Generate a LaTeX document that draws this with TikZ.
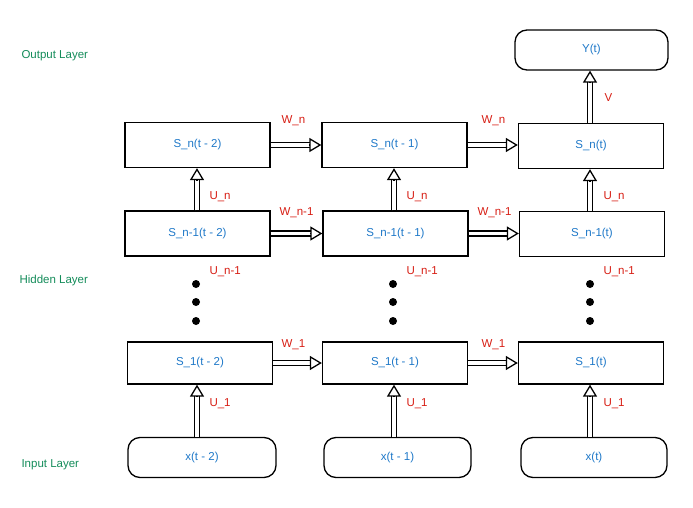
\documentclass[tikz,border=0pt]{standalone}
\usepackage{fontspec}
\setmainfont{Liberation Sans}
\usetikzlibrary{arrows.meta,calc}
\definecolor{tblue}{RGB}{30,120,200}
\definecolor{tred}{RGB}{215,30,20}
\definecolor{tgreen}{RGB}{20,140,90}
\begin{document}
\begin{tikzpicture}[x=1pt,y=-1pt,
  box/.style={draw,line width=1.3pt,minimum width=145pt,minimum height=45pt,inner sep=0,text=tblue,font=\fontsize{11.5}{13}\selectfont},
  term/.style={box,rounded corners=12pt,minimum height=40pt},
  lab/.style={text=tred,font=\fontsize{11.5}{13}\selectfont,anchor=west},
  layer/.style={text=tgreen,font=\fontsize{11.5}{13}\selectfont,anchor=west},
  shaft/.style={draw,line width=1.3pt,double=white,double distance=3.5pt},
  tip/.style={draw,line width=1.3pt,-{Triangle[open,length=12pt,width=14pt]}},
  dot/.style={circle,fill,inner sep=0,minimum size=8pt}]
\useasboundingbox (0,0) rectangle (693,508);
\newcommand\hollowh[2]{\path[shaft] (#1.east) -- ($(#1.east -| #2.west)+(-11pt,0)$); \path[tip] ($(#1.east -| #2.west)+(-12pt,0)$) -- (#1.east -| #2.west);}
\newcommand\hollowv[3]{\path[shaft] (#3 |- #1.north) -- ($(#3 |- #2.south)+(0,-11pt)$); \path[tip] ($(#3 |- #2.south)+(0,-12pt)$) -- (#3 |- #2.south);}
\node[box] (a3) at (197.5,145) {S\_n(t - 2)};
\node[box] (b3) at (394.5,145) {S\_n(t - 1)};
\node[box] (c3) at (591,146) {S\_n(t)};
\node[box] (a2) at (197.5,233.5) {S\_n-1(t - 2)};
\node[box] (b2) at (395.5,233.5) {S\_n-1(t - 1)};
\node[box] (c2) at (592,234) {S\_n-1(t)};
\node[box,minimum height=42pt] (a1) at (200,363) {S\_1(t - 2)};
\node[box,minimum height=42pt] (b1) at (395,363) {S\_1(t - 1)};
\node[box,minimum height=42pt] (c1) at (591,363) {S\_1(t)};
\node[term,minimum width=148pt] (a0) at (202,457.5) {x(t - 2)};
\node[term,minimum width=147pt] (b0) at (397.5,457.5) {x(t - 1)};
\node[term,minimum width=146pt] (c0) at (594,457.5) {x(t)};
\node[term,minimum width=153pt] (y) at (591.5,50) {Y(t)};
\coordinate (ax) at (197,0);
\coordinate (bx) at (394,0);
\coordinate (cx) at (590,0);
\foreach \x/\n in {196/a,393/b,590/c}{
  \node[dot] (\n d1) at (\x,284) {};
  \node[dot] (\n d2) at (\x,302) {};
  \node[dot] (\n d3) at (\x,321) {};}
\hollowh{a3}{b3}\hollowh{b3}{c3}
\hollowh{a2}{b2}\hollowh{b2}{c2}
\hollowh{a1}{b1}\hollowh{b1}{c1}
\hollowv{a2}{a3}{ax}\hollowv{b2}{b3}{bx}\hollowv{c2}{c3}{cx}
\hollowv{a0}{a1}{ax}\hollowv{b0}{b1}{bx}\hollowv{c0}{c1}{cx}
\hollowv{c3}{y}{cx}
\node[lab] (l1) at (278,121) {W\_n};
\node[lab] (l2) at (478,121) {W\_n};
\node[lab] (l3) at (276,213) {W\_n-1};
\node[lab] (l4) at (474,213) {W\_n-1};
\node[lab] (l5) at (278,345) {W\_1};
\node[lab] (l6) at (478,345) {W\_1};
\foreach \x/\n in {206/a,403/b,600/c}{
  \node[lab] (\n un) at (\x,197) {U\_n};
  \node[lab] (\n um) at (\x,272) {U\_n-1};
  \node[lab] (\n uo) at (\x,404) {U\_1};}
\node[lab] (v) at (601,98) {V};
\node[layer] (ol) at (18,56) {Output Layer};
\node[layer] (hl) at (16,281) {Hidden Layer};
\node[layer] (il) at (18,465) {Input Layer};
\end{tikzpicture}
\end{document}
